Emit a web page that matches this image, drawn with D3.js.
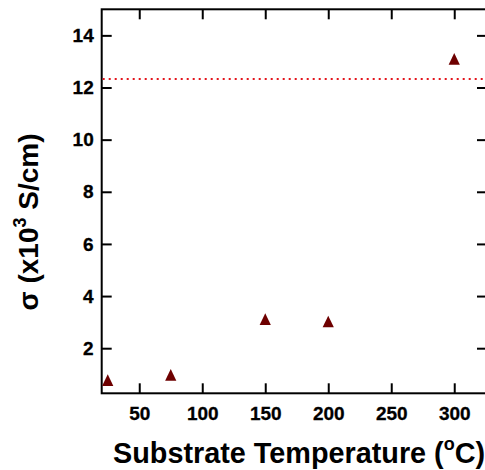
<!DOCTYPE html>
<html>
<head>
<meta charset="utf-8">
<script src="https://cdn.jsdelivr.net/npm/d3@7"></script>
<style>
  body { margin: 0; background: white; }
  svg { display: block; font-family: "Liberation Sans", Arial, sans-serif; font-weight: bold; }
</style>
</head>
<body>
<div id="chart"></div>
<script>
// data
const temps = [25, 75, 150, 200, 300];
const sigma = [0.75, 0.95, 3.09, 3.0, 13.07];
const refLevel = 12.33;
const xTicks = [50, 100, 150, 200, 250, 300];
const yTicks = [2, 4, 6, 8, 10, 12, 14];

const width = 485;
const height = 470;
const plot = {l: 101.7, r: 487, t: 9.3, b: 393.3};

const svg = d3.select("#chart")
    .append("svg")
    .attr("width", width)
    .attr("height", height);

const xScale = d3.scaleLinear()
    .domain([20.2, 326])
    .range([plot.l, plot.r]);

const yScale = d3.scaleLinear()
    .domain([0.27, 15])
    .range([plot.b, plot.t]);

//ticks, all pointing inward
const tickLen = 10;
const bottomAxis = d3.axisBottom(xScale).tickValues(xTicks).tickSize(-tickLen).tickPadding(13);
const topAxis = d3.axisTop(xScale).tickValues(xTicks).tickSize(-tickLen).tickFormat("");
const leftAxis = d3.axisLeft(yScale).tickValues(yTicks).tickSize(-tickLen).tickPadding(8);
const rightAxis = d3.axisRight(yScale).tickValues(yTicks).tickSize(-tickLen).tickFormat("");

function styleAxis(g) {
    g.select(".domain").remove();
    g.selectAll(".tick line").attr("stroke", "black").attr("stroke-width", 2);
    g.selectAll(".tick text")
        .attr("fill", "black")
        .attr("stroke", "black")
        .attr("stroke-width", 0.3)
        .attr("font-size", "19px")
        .attr("font-weight", "bold")
        .attr("font-family", "Liberation Sans, Arial, sans-serif");
}

svg.append("g").attr("transform", `translate(0, ${plot.b})`).call(bottomAxis).call(styleAxis);
svg.append("g").attr("transform", `translate(0, ${plot.t})`).call(topAxis).call(styleAxis);
svg.append("g").attr("transform", `translate(${plot.l}, 0)`).call(leftAxis).call(styleAxis);
svg.append("g").attr("transform", `translate(${plot.r}, 0)`).call(rightAxis).call(styleAxis);

//frame
svg.append("rect")
    .attr("x", plot.l)
    .attr("y", plot.t)
    .attr("width", plot.r - plot.l)
    .attr("height", plot.b - plot.t)
    .attr("fill", "none")
    .attr("stroke", "black")
    .attr("stroke-width", 2);

//reference dotted line
svg.append("line")
    .attr("x1", plot.l + 1)
    .attr("x2", plot.r)
    .attr("y1", yScale(refLevel))
    .attr("y2", yScale(refLevel))
    .attr("stroke", "#e3141c")
    .attr("stroke-width", 2)
    .attr("stroke-dasharray", "2,4");

//triangles
const points = temps.map((t, i) => ({t: t, s: sigma[i]}));
svg.selectAll(".pt")
    .data(points)
    .join("path")
    .attr("class", "pt")
    .attr("fill", "#6e0000")
    .attr("d", d => {
        const cx = xScale(d.t), cy = yScale(d.s);
        return `M${cx},${cy - 6.5} L${cx - 5.6},${cy + 5.2} L${cx + 5.6},${cy + 5.2} Z`;
    });

//x title
const xt = svg.append("text")
    .attr("x", 113)
    .attr("y", 463)
    .attr("font-size", "28.8px")
    .attr("fill", "black");
xt.append("tspan").text("Substrate Temperature (");
xt.append("tspan").attr("dy", -13).attr("font-size", "18px").text("o");
xt.append("tspan").attr("dy", 13).text("C)");

//y title
const yt = svg.append("text")
    .attr("transform", "rotate(-90)")
    .attr("x", -222)
    .attr("y", 38)
    .attr("text-anchor", "middle")
    .attr("font-size", "28px")
    .attr("fill", "black");
yt.append("tspan").text("σ (x10");
yt.append("tspan").attr("dy", -12).attr("font-size", "18px").text("3");
yt.append("tspan").attr("dy", 12).text(" S/cm)");
</script>
</body>
</html>
